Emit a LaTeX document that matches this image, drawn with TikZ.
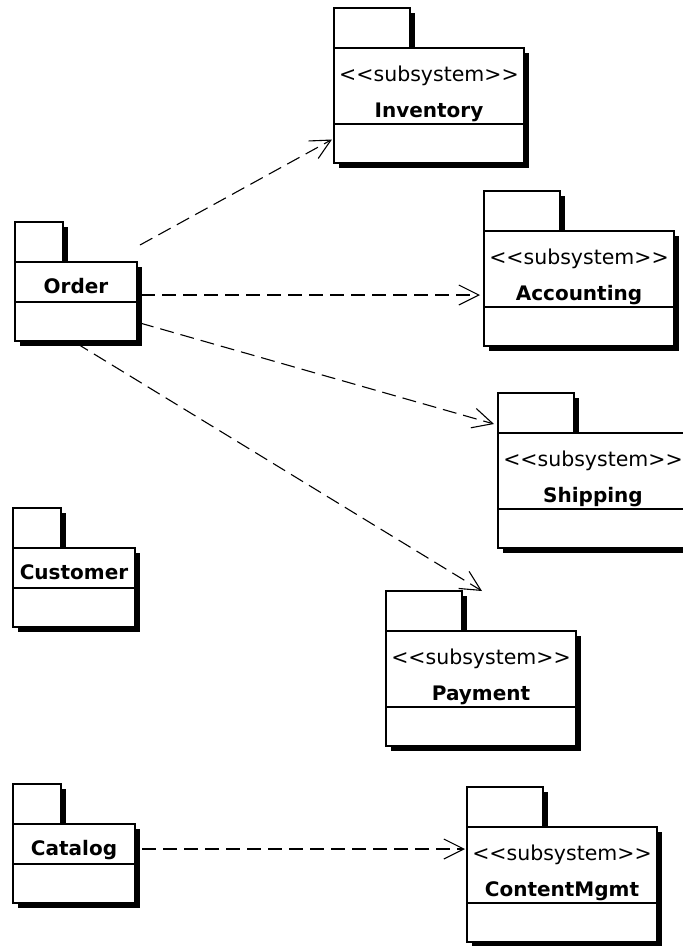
\documentclass[tikz,border=0pt]{standalone}
\usepackage{fontspec}
\setmainfont{DejaVu Sans}
\usepackage{xcolor}
\definecolor{cLine}{HTML}{000000}
\definecolor{cShadow}{HTML}{000000}
\usepackage{tikz}
\usetikzlibrary{positioning,arrows.meta,calc,shadows}
\newcommand{\stereotype}{{\mdseries\fontsize{20.5}{36}\selectfont <{}<subsystem>{}>}}
\tikzset{
  pkg-shadow/.style={drop shadow={shadow xshift=5pt,shadow yshift=-5pt,
    opacity=1,fill=cShadow}},
  pkg-part/.style={draw=cLine,line width=1.3pt,fill=white,pkg-shadow,
    inner sep=0pt,outer sep=0pt},
  % tab on top of the package, then name part, then empty compartment
  pkg-tab/.style={pkg-part,minimum height=40pt,anchor=south west},
  tab-plain/.style={minimum width=48pt},
  tab-sub/.style={minimum width=76pt},
  pkg-head/.style={pkg-part,anchor=north west,align=center,
    font=\fontsize{20}{36}\selectfont\bfseries},
  pkg-plain/.style={pkg-head,minimum width=122pt,text height=31pt,text depth=9pt},
  pkg-sub/.style={pkg-head,minimum width=190pt,text height=69pt,text depth=7pt},
  comp-plain/.style={pkg-part,minimum width=122pt,minimum height=39pt},
  comp-sub/.style={pkg-part,minimum width=190pt,minimum height=39pt},
  dep/.style={-{Straight Barb[length=20pt,width=20pt]},line width=1.1pt,
    draw=cLine,dash pattern=on 14pt off 7pt},
}

\begin{document}
\begin{tikzpicture}[x=1pt,y=-1pt]
  \useasboundingbox (0,0) rectangle (683,946);
  % plain packages
  \node[pkg-tab,tab-plain] (order-tab) at (15,262) {};
  \node[pkg-plain] (order) at (order-tab.south west) {Order};
  \node[comp-plain,below=0pt of order] (order-comp) {};

  \node[pkg-tab,tab-plain] (customer-tab) at (13,548) {};
  \node[pkg-plain] (customer) at (customer-tab.south west) {Customer};
  \node[comp-plain,below=0pt of customer] (customer-comp) {};

  \node[pkg-tab,tab-plain] (catalog-tab) at (13,824) {};
  \node[pkg-plain] (catalog) at (catalog-tab.south west) {Catalog};
  \node[comp-plain,below=0pt of catalog] (catalog-comp) {};

  % subsystems
  \node[pkg-tab,tab-sub] (inventory-tab) at (334,48) {};
  \node[pkg-sub] (inventory) at (inventory-tab.south west)
    {\stereotype\\Inventory};
  \node[comp-sub,below=0pt of inventory] (inventory-comp) {};

  \node[pkg-tab,tab-sub] (accounting-tab) at (484,231) {};
  \node[pkg-sub] (accounting) at (accounting-tab.south west)
    {\stereotype\\Accounting};
  \node[comp-sub,below=0pt of accounting] (accounting-comp) {};

  \node[pkg-tab,tab-sub] (shipping-tab) at (498,433) {};
  \node[pkg-sub] (shipping) at (shipping-tab.south west)
    {\stereotype\\Shipping};
  \node[comp-sub,below=0pt of shipping] (shipping-comp) {};

  \node[pkg-tab,tab-sub] (payment-tab) at (386,631) {};
  \node[pkg-sub] (payment) at (payment-tab.south west)
    {\stereotype\\Payment};
  \node[comp-sub,below=0pt of payment] (payment-comp) {};

  \node[pkg-tab,tab-sub] (content-tab) at (467,827) {};
  \node[pkg-sub] (content) at (content-tab.south west)
    {\stereotype\\ContentMgmt};
  \node[comp-sub,below=0pt of content] (content-comp) {};

  % dependencies
  \draw[dep] ($(order.north east)+(3,-17)$) -- ($(inventory-comp.west)+(-2,-4)$);
  \draw[dep] ($(order.south east)+(4,-7)$) -- ($(accounting.south west)+(-4,-12)$);
  \draw[dep] ($(order-comp.north east)+(3,21)$) -- ($(shipping-tab.south west)+(-4,-9)$);
  \draw[dep] ($(order-comp.south)+(0,2)$) -- ($(payment-tab.north east)+(20,0)$);
  \draw[dep] ($(catalog.east)+(7,5)$) -- ($(content.north west)+(-2,22)$);
\end{tikzpicture}
\end{document}
